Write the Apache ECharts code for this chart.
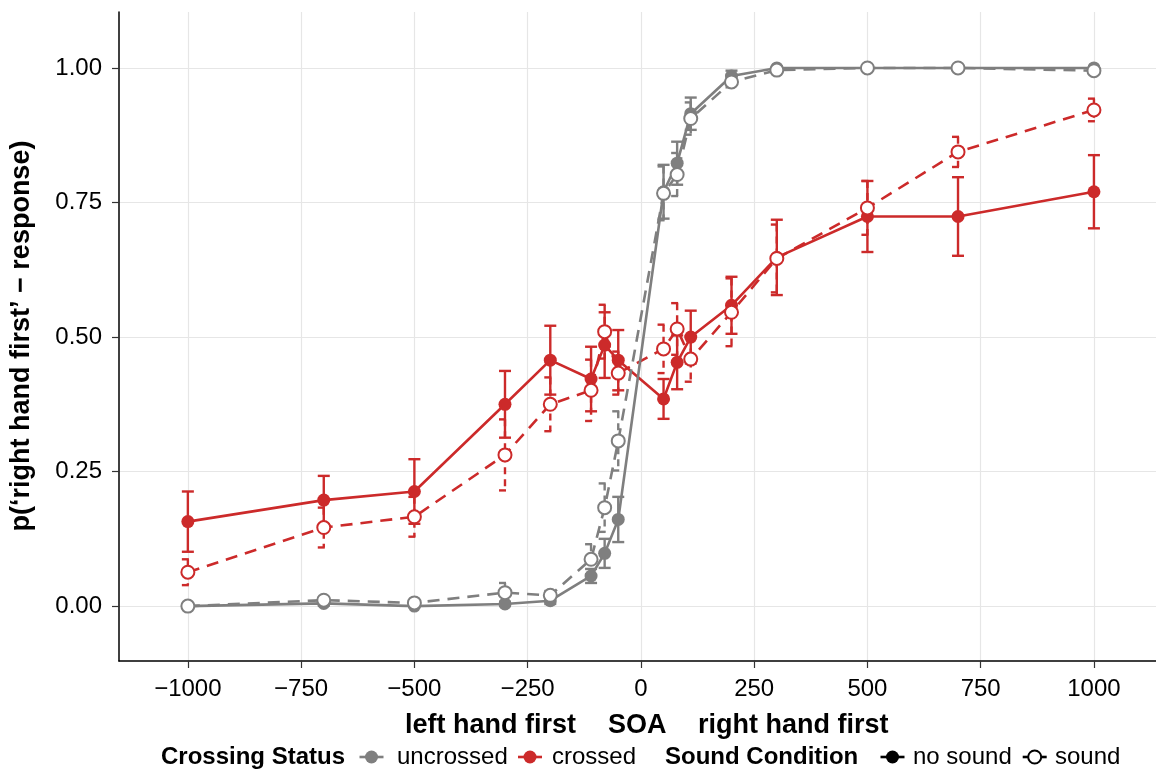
<!DOCTYPE html>
<html>
<head>
<meta charset="utf-8">
<script src="https://cdn.jsdelivr.net/npm/echarts@6/dist/echarts.min.js"></script>
<style>html,body{margin:0;padding:0;background:#fff}#c{width:1156px;height:770px}</style>
</head>
<body>
<div id="c"></div>
<script>
// ---- data ----
const soa = [-1000, -700, -500, -300, -200, -110, -80, -50, 50, 80, 110, 200, 300, 500, 700, 1000];
const xTicks = [-1000, -750, -500, -250, 0, 250, 500, 750, 1000];
const yTicks = [0, 0.25, 0.5, 0.75, 1];

const uncrossedNoSound = [0.000, 0.005, 0.000, 0.004, 0.010, 0.056, 0.098, 0.161, 0.770, 0.823, 0.915, 0.985, 1.000, 1.000, 1.000, 1.000];
const uncrossedNoSoundErr = [0.002, 0.004, 0.002, 0.004, 0.006, 0.013, 0.027, 0.042, 0.050, 0.040, 0.030, 0.010, 0.003, 0.001, 0.001, 0.002];
const uncrossedSound = [0.000, 0.011, 0.006, 0.025, 0.020, 0.087, 0.183, 0.307, 0.767, 0.802, 0.906, 0.974, 0.996, 1.000, 1.000, 0.995];
const uncrossedSoundErr = [0.002, 0.005, 0.004, 0.018, 0.008, 0.028, 0.045, 0.055, 0.050, 0.040, 0.030, 0.010, 0.004, 0.001, 0.001, 0.004];
const crossedNoSound = [0.157, 0.197, 0.213, 0.375, 0.457, 0.422, 0.485, 0.457, 0.385, 0.453, 0.500, 0.559, 0.648, 0.724, 0.724, 0.770];
const crossedNoSoundErr = [0.056, 0.045, 0.060, 0.062, 0.064, 0.060, 0.061, 0.056, 0.037, 0.050, 0.049, 0.053, 0.070, 0.066, 0.073, 0.068];
const crossedSound = [0.063, 0.146, 0.166, 0.281, 0.375, 0.401, 0.510, 0.433, 0.478, 0.515, 0.459, 0.546, 0.646, 0.740, 0.844, 0.922];
const crossedSoundErr = [0.024, 0.037, 0.037, 0.066, 0.050, 0.057, 0.050, 0.040, 0.045, 0.048, 0.042, 0.063, 0.063, 0.050, 0.028, 0.021];

// ---- styles ----
const GRAY = '#7f7f7f';
const RED = '#cc2a2a';
const FONT = '"Liberation Sans", Arial, Helvetica, sans-serif';
const DASH = [12, 8];

function fmtMinus(v) { return v < 0 ? '\u2212' + Math.abs(v) : String(v); }

function errRenderer(color, dashed) {
  return function (params, api) {
    const x = api.value(0), lo = api.value(1), hi = api.value(2);
    const a = api.coord([x, hi]), b = api.coord([x, lo]);
    const hw = 6;
    const style = { stroke: color, lineWidth: 2.4, fill: null, lineDash: dashed ? [7, 5] : null };
    return {
      type: 'group',
      children: [
        { type: 'line', shape: { x1: a[0], y1: a[1], x2: b[0], y2: b[1] }, style: style },
        { type: 'line', shape: { x1: a[0] - hw, y1: a[1], x2: a[0] + hw, y2: a[1] }, style: style },
        { type: 'line', shape: { x1: b[0] - hw, y1: b[1], x2: b[0] + hw, y2: b[1] }, style: style }
      ]
    };
  };
}

function errSeries(name, vals, errs, color, dashed) {
  return {
    name: name + ' err', type: 'custom', z: 2, silent: true,
    renderItem: errRenderer(color, dashed),
    encode: { x: 0, y: [1, 2] },
    data: soa.map((x, i) => [x, vals[i] - errs[i], vals[i] + errs[i]])
  };
}

function lineSeries(name, vals, color, dashed) {
  return {
    name: name, type: 'line', z: 3, silent: true,
    data: soa.map((x, i) => [x, vals[i]]),
    symbol: 'circle', symbolSize: 13, showSymbol: true,
    lineStyle: { color: color, width: 2.6, type: dashed ? DASH : 'solid' },
    itemStyle: dashed ? { color: '#ffffff', borderColor: color, borderWidth: 2 } : { color: color, borderColor: color, borderWidth: 0 },
    emphasis: { disabled: true },
    animation: false
  };
}

const chart = echarts.init(document.getElementById('c'));

const LY = 757;
function key(cx, color, open) {
  return [
    { type: 'line', shape: { x1: cx - 12, y1: LY, x2: cx + 12, y2: LY }, style: { stroke: color, lineWidth: 2.6 } },
    { type: 'circle', shape: { cx: cx, cy: LY, r: 6.5 }, style: open ? { fill: '#fff', stroke: color, lineWidth: 2 } : { fill: color } }
  ];
}
function txt(x, y, s, size, bold, align) {
  return { type: 'text', x: x, y: y, style: { text: s, font: (bold ? 'bold ' : '') + size + 'px ' + FONT, fill: '#000', align: align || 'left', verticalAlign: 'middle' } };
}

chart.setOption({
  animation: false,
  backgroundColor: '#fff',
  grid: { left: 119, right: 0, top: 12, bottom: 109, containLabel: false },
  xAxis: {
    type: 'value', min: -1152, max: 1137,
    axisLine: { show: true, onZero: false, lineStyle: { color: '#000', width: 1.5 } },
    axisTick: { show: true, customValues: xTicks, length: 7, lineStyle: { color: '#333', width: 1.2 } },
    axisLabel: { customValues: xTicks, formatter: fmtMinus, color: '#000', fontSize: 24, fontFamily: FONT, margin: 16 },
    splitLine: { show: true, lineStyle: { color: '#e6e6e6', width: 1.2 } }
  },
  yAxis: {
    type: 'value', min: -0.102, max: 1.104,
    axisLine: { show: true, onZero: false, lineStyle: { color: '#000', width: 1.5 } },
    axisTick: { show: true, customValues: yTicks, length: 7, lineStyle: { color: '#333', width: 1.2 } },
    axisLabel: { customValues: yTicks, formatter: v => v.toFixed(2), color: '#000', fontSize: 24, fontFamily: FONT, margin: 17 },
    splitLine: { show: true, lineStyle: { color: '#e6e6e6', width: 1.2 } }
  },
  series: [
    errSeries('uncrossed no sound', uncrossedNoSound, uncrossedNoSoundErr, GRAY, false),
    errSeries('uncrossed sound', uncrossedSound, uncrossedSoundErr, GRAY, true),
    errSeries('crossed no sound', crossedNoSound, crossedNoSoundErr, RED, false),
    errSeries('crossed sound', crossedSound, crossedSoundErr, RED, true),
    lineSeries('crossed no sound', crossedNoSound, RED, false),
    lineSeries('crossed sound', crossedSound, RED, true),
    lineSeries('uncrossed no sound', uncrossedNoSound, GRAY, false),
    lineSeries('uncrossed sound', uncrossedSound, GRAY, true)
  ],
  graphic: [
    Object.assign(txt(22, 336, 'p(\u2018right hand first\u2019 \u2212 response)', 27, true, 'center'), { rotation: Math.PI / 2 }),
    txt(405, 726, 'left hand first', 27, true),
    txt(608, 726, 'SOA', 27, true),
    txt(698, 726, 'right hand first', 27, true),
    txt(161, LY, 'Crossing Status', 24, true),
    ...key(371.5, GRAY, false),
    txt(397, LY, 'uncrossed', 24, false),
    ...key(530, RED, false),
    txt(552, LY, 'crossed', 24, false),
    txt(665, LY, 'Sound Condition', 24, true),
    ...key(892.5, '#000', false),
    txt(913, LY, 'no sound', 24, false),
    ...key(1034.7, '#000', true),
    txt(1055, LY, 'sound', 24, false)
  ]
});
</script>
</body>
</html>
